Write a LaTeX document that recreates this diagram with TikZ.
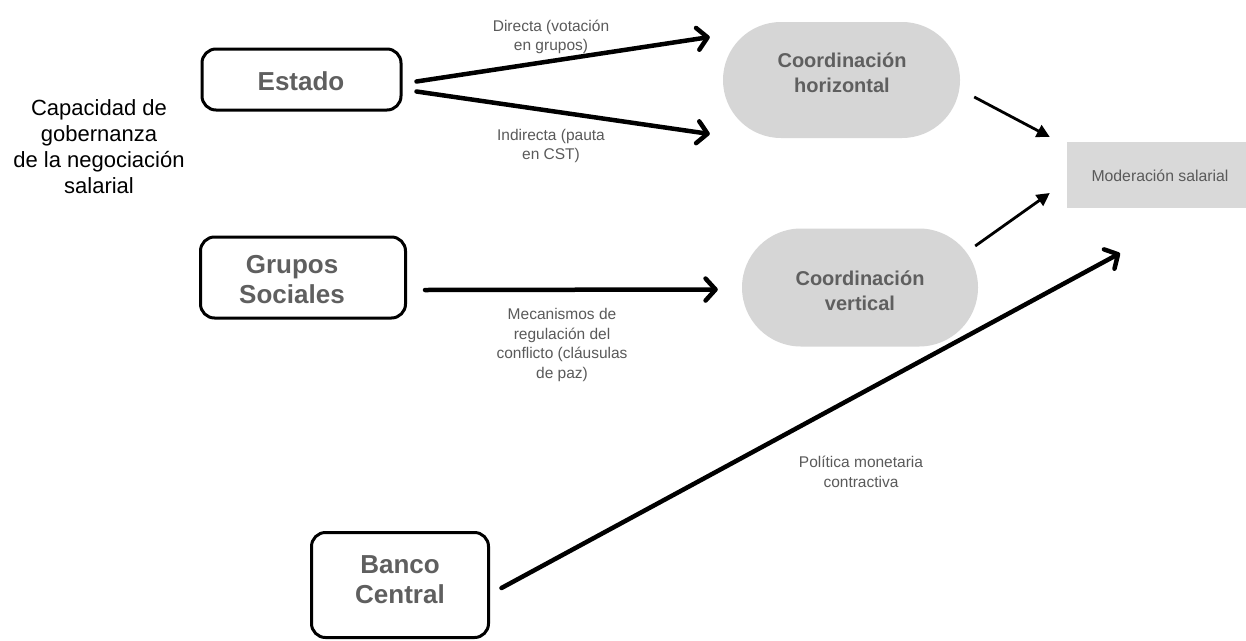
\documentclass[tikz,border=0pt]{standalone}
\usepackage{fontspec}
\setmainfont{Liberation Sans}
\usetikzlibrary{arrows.meta,calc}
\definecolor{boxtext}{HTML}{5F5F5F}
\definecolor{lbltext}{HTML}{5A5A5A}
\definecolor{pillfill}{HTML}{D6D6D6}
\definecolor{modfill}{HTML}{D9D9D9}
\begin{document}
\begin{tikzpicture}[x=1pt,y=-1pt,
  actor/.style={draw=black, line width=3pt, rounded corners=14pt, inner sep=0pt},
  actortext/.style={text=boxtext, font=\fontsize{26}{30}\selectfont\bfseries, align=center, inner sep=0pt},
  pilltext/.style={text=boxtext, font=\fontsize{20}{25}\selectfont\bfseries, align=center, inner sep=0pt},
  lbl/.style={text=lbltext, font=\fontsize{15.5}{19.5}\selectfont, align=center, inner sep=0pt},
  thickarrow/.style={line width=4.5pt, line cap=round, -{Straight Barb[length=10pt,width=22pt,round]}},
  thinarrow/.style={line width=2.8pt, -{Triangle[length=13pt,width=13pt]}}
]
\useasboundingbox (0,0) rectangle (1246,640);
\fill[white] (0,0) rectangle (1246,640);

% title
\node[align=center, inner sep=0pt, font=\fontsize{22}{26}\selectfont] (title) at (99,146.5)
  {Capacidad de\\gobernanza\\de la negociación\\salarial};

% actors
\node[actor, minimum width=199pt, minimum height=61pt] (estado) at (301.5,79.5) {};
\node[actortext] (estadotxt) at (301,81) {Estado};
\node[actor, minimum width=205pt, minimum height=81pt] (grupos) at (303,277.5) {};
\node[actortext] (npgrupostxt) at (292,280) {Grupos\\Sociales};
\node[actor, minimum width=177pt, minimum height=105pt] (banco) at (400,585) {};
\node[actortext] (bancotxt) at (400,580) {Banco\\Central};

% coordination pills
\node[fill=pillfill, rounded corners=58pt, minimum width=237pt, minimum height=116pt, inner sep=0pt] (ch) at (841.5,80) {};
\node[pilltext] (chtxt) at (842,72.5) {Coordinación\\horizontal};
\node[fill=pillfill, rounded corners=59pt, minimum width=236pt, minimum height=118pt, inner sep=0pt] (cv) at (860,287.5) {};
\node[pilltext] (cvtxt) at (860,290.5) {Coordinación\\vertical};

% outcome
\node[fill=modfill, minimum width=179pt, minimum height=66pt, inner sep=0pt] (mod) at (1156.5,175) {};
\node[lbl, font=\fontsize{15.8}{19.5}\selectfont] (modtxt) at (1160,176) {Moderación salarial};

% connectors
\draw[thickarrow] ($(estado.east)+(14,2)$) -- ($(ch.west)+(-13,-43)$);
\draw[thickarrow] ($(estado.east)+(14,12)$) -- ($(ch.west)+(-13,54)$);
\draw[thickarrow] ($(grupos.east)+(18,12.5)$) -- ($(cv.west)+(-24,2)$);
\draw[thickarrow] ($(banco.east)+(11.5,3)$) -- ($(mod.south)+(-36.5,45)$);
\draw[thinarrow] ($(ch.east)+(14,17)$) -- ($(mod.west)+(-17,-38)$);
\draw[thinarrow] ($(cv.east)+(-3,-41.5)$) -- ($(mod.west)+(-17,18)$);

% labels
\node[lbl] (ldir) at (551,37) {Directa (votación\\en grupos)};
\node[lbl] (lind) at (551,146) {Indirecta (pauta\\en CST)};
\node[lbl] (lmec) at (562,345) {Mecanismos de\\regulación del\\conflicto (cláusulas\\de paz)};
\node[lbl] (lpol) at (861,472) {Política monetaria\\contractiva};
\end{tikzpicture}
\end{document}
